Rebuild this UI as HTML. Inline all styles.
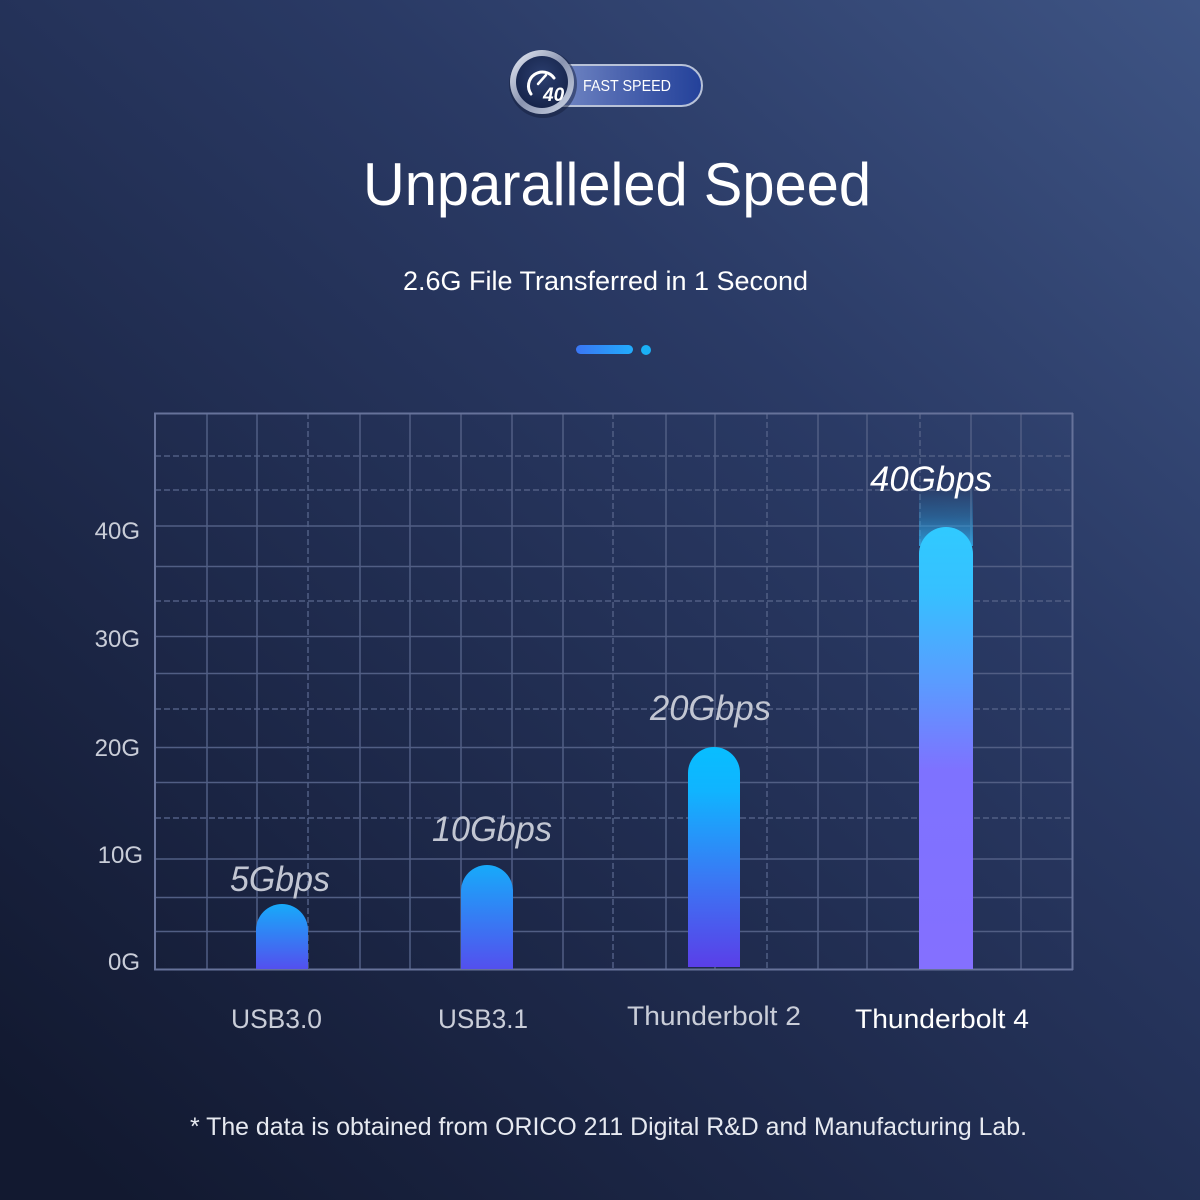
<!DOCTYPE html>
<html><head><meta charset="utf-8"><style>
html,body{margin:0;padding:0;width:1200px;height:1200px;overflow:hidden;background:#1c2748}
svg{display:block}
text{font-family:"Liberation Sans",sans-serif}
</style></head><body>
<svg width="1200" height="1200" viewBox="0 0 1200 1200" xmlns="http://www.w3.org/2000/svg">
<defs>
<linearGradient id="bg" x1="1" y1="0" x2="0.1" y2="1">
<stop offset="0" stop-color="#3e5484"/>
<stop offset="0.35" stop-color="#2a3a65"/>
<stop offset="0.7" stop-color="#1d2849"/>
<stop offset="1" stop-color="#121930"/>
</linearGradient>
<linearGradient id="gSmall" x1="0" y1="0" x2="0" y2="1">
<stop offset="0" stop-color="#17aafa"/>
<stop offset="1" stop-color="#5350ee"/>
</linearGradient>
<linearGradient id="gTB2" x1="0" y1="0" x2="0" y2="1">
<stop offset="0" stop-color="#08beff"/>
<stop offset="0.2" stop-color="#10b4ff"/>
<stop offset="0.6" stop-color="#3a78f4"/>
<stop offset="1" stop-color="#5a3fe8"/>
</linearGradient>
<linearGradient id="gTB4" x1="0" y1="0" x2="0" y2="1">
<stop offset="0" stop-color="#30caff"/>
<stop offset="0.15" stop-color="#36c0ff"/>
<stop offset="0.35" stop-color="#5a9cff"/>
<stop offset="0.55" stop-color="#7e72ff"/>
<stop offset="1" stop-color="#8470ff"/>
</linearGradient>
<linearGradient id="glow" x1="0" y1="0" x2="0" y2="1">
<stop offset="0" stop-color="#2aa0e0" stop-opacity="0"/>
<stop offset="0.5" stop-color="#2aa0e0" stop-opacity="0.35"/>
<stop offset="1" stop-color="#30b0f0" stop-opacity="0.8"/>
</linearGradient>
<linearGradient id="pill" x1="0" y1="0" x2="1" y2="0">
<stop offset="0" stop-color="#3a76f4"/>
<stop offset="1" stop-color="#22acfc"/>
</linearGradient>
<linearGradient id="badge" x1="0" y1="0" x2="1" y2="0">
<stop offset="0" stop-color="#8094cc"/>
<stop offset="0.5" stop-color="#4e66b0"/>
<stop offset="1" stop-color="#23419a"/>
</linearGradient>
<linearGradient id="ring" x1="0" y1="0" x2="1" y2="1">
<stop offset="0" stop-color="#eef2fa"/>
<stop offset="0.5" stop-color="#8a94b0"/>
<stop offset="1" stop-color="#d0d8e8"/>
</linearGradient>
<radialGradient id="inner" cx="0.5" cy="0.4" r="0.6">
<stop offset="0" stop-color="#2c3f70"/>
<stop offset="1" stop-color="#16244a"/>
</radialGradient>
</defs>
<rect width="1200" height="1200" fill="url(#bg)"/>

<!-- badge -->
<rect x="535" y="65" width="167" height="41" rx="20.5" fill="url(#badge)" stroke="#b8c2d8" stroke-width="2"/>
<text x="583" y="91" font-size="15.5" fill="#ffffff" textLength="88" lengthAdjust="spacingAndGlyphs">FAST SPEED</text>
<circle cx="543" cy="84" r="34" fill="#141e3c" opacity="0.5"/>
<circle cx="542" cy="82" r="32" fill="url(#ring)"/>
<circle cx="542" cy="82" r="26" fill="url(#inner)"/>
<path d="M531 94 A14 14 0 1 1 554 78" fill="none" stroke="#ffffff" stroke-width="3" stroke-linecap="round"/>
<line x1="538" y1="84" x2="546" y2="75" stroke="#ffffff" stroke-width="2.5" stroke-linecap="round"/>
<text x="543" y="101" font-size="19" font-weight="bold" font-style="italic" fill="#ffffff">40</text>

<!-- title -->
<text x="617" y="205" font-size="60" fill="#ffffff" text-anchor="middle" textLength="508" lengthAdjust="spacingAndGlyphs">Unparalleled Speed</text>
<text x="605.5" y="290" font-size="27" fill="#ffffff" text-anchor="middle" textLength="405" lengthAdjust="spacingAndGlyphs">2.6G File Transferred in 1 Second</text>
<rect x="576" y="345" width="57" height="9" rx="4.5" fill="url(#pill)"/>
<circle cx="646" cy="350" r="5" fill="#1ab0f6"/>

<!-- grid -->
<g stroke="#515e84" stroke-width="1.5" fill="none">
<line x1="155" y1="526" x2="1072" y2="526"/>
<line x1="155" y1="566.5" x2="1072" y2="566.5"/>
<line x1="155" y1="636.5" x2="1072" y2="636.5"/>
<line x1="155" y1="673.5" x2="1072" y2="673.5"/>
<line x1="155" y1="747.5" x2="1072" y2="747.5"/>
<line x1="155" y1="782.5" x2="1072" y2="782.5"/>
<line x1="155" y1="859" x2="1072" y2="859"/>
<line x1="155" y1="897.5" x2="1072" y2="897.5"/>
<line x1="155" y1="931.5" x2="1072" y2="931.5"/>
<line x1="207" y1="413" x2="207" y2="969"/>
<line x1="257" y1="413" x2="257" y2="969"/>
<line x1="360" y1="413" x2="360" y2="969"/>
<line x1="410" y1="413" x2="410" y2="969"/>
<line x1="461" y1="413" x2="461" y2="969"/>
<line x1="512" y1="413" x2="512" y2="969"/>
<line x1="563" y1="413" x2="563" y2="969"/>
<line x1="666" y1="413" x2="666" y2="969"/>
<line x1="715" y1="413" x2="715" y2="969"/>
<line x1="818" y1="413" x2="818" y2="969"/>
<line x1="867" y1="413" x2="867" y2="969"/>
<line x1="971" y1="413" x2="971" y2="969"/>
<line x1="1021" y1="413" x2="1021" y2="969"/>
</g>
<g stroke="#515e84" stroke-width="1.5" fill="none" stroke-dasharray="6 3">
<line x1="155" y1="456" x2="1072" y2="456"/>
<line x1="155" y1="490" x2="1072" y2="490"/>
<line x1="155" y1="601" x2="1072" y2="601"/>
<line x1="155" y1="709" x2="1072" y2="709"/>
<line x1="155" y1="818" x2="1072" y2="818"/>
<line x1="308" y1="413" x2="308" y2="969"/>
<line x1="613" y1="413" x2="613" y2="969"/>
<line x1="767" y1="413" x2="767" y2="969"/>
<line x1="920" y1="413" x2="920" y2="969"/>
</g>
<g stroke="#66729a" stroke-width="2" fill="none">
<line x1="154" y1="413.5" x2="1073" y2="413.5"/>
<line x1="155" y1="413" x2="155" y2="970"/>
<line x1="1072.5" y1="413" x2="1072.5" y2="970"/>
<line x1="154" y1="969.5" x2="1073" y2="969.5"/>
</g>

<!-- y labels -->
<g font-size="24" fill="#c9cdd8" text-anchor="end">
<text x="140" y="539">40G</text>
<text x="140" y="647">30G</text>
<text x="140" y="756">20G</text>
<text x="143" y="863">10G</text>
<text x="140" y="970">0G</text>
</g>

<!-- bars -->
<path d="M256 969 V930 A26 26 0 0 1 308 930 V969 Z" fill="url(#gSmall)"/>
<path d="M461 969 V891 A26 26 0 0 1 513 891 V969 Z" fill="url(#gSmall)"/>
<path d="M688 967 V773 A26 26 0 0 1 740 773 V967 Z" fill="url(#gTB2)"/>
<rect x="919" y="486" width="54" height="60" fill="url(#glow)"/>
<path d="M919 969 V554 A27 27 0 0 1 973 554 V969 Z" fill="url(#gTB4)"/>

<!-- value labels -->
<g font-size="35" font-style="italic" fill="#c2c6d2">
<text x="230" y="891" textLength="100" lengthAdjust="spacingAndGlyphs">5Gbps</text>
<text x="432" y="841" textLength="120" lengthAdjust="spacingAndGlyphs">10Gbps</text>
<text x="650" y="720" textLength="121" lengthAdjust="spacingAndGlyphs">20Gbps</text>
<text x="870" y="491" textLength="122" lengthAdjust="spacingAndGlyphs" fill="#ffffff">40Gbps</text>
</g>

<!-- category labels -->
<g font-size="27" fill="#c9cdd8">
<text x="231" y="1028" textLength="91" lengthAdjust="spacingAndGlyphs">USB3.0</text>
<text x="438" y="1028" textLength="90" lengthAdjust="spacingAndGlyphs">USB3.1</text>
<text x="627" y="1025" textLength="174" lengthAdjust="spacingAndGlyphs">Thunderbolt 2</text>
<text x="855" y="1028" textLength="174" lengthAdjust="spacingAndGlyphs" fill="#ffffff">Thunderbolt 4</text>
</g>

<text x="190" y="1135" font-size="25" fill="#e6e9f0" textLength="837" lengthAdjust="spacingAndGlyphs">* The data is obtained from ORICO 211 Digital R&amp;D and Manufacturing Lab.</text>
</svg>
</body></html>
